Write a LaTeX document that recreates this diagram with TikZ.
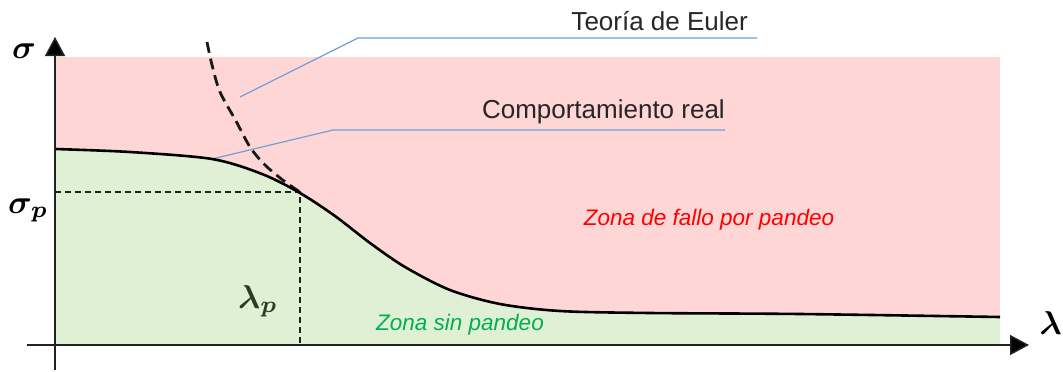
\documentclass[tikz,border=0pt]{standalone}
\usepackage{graphicx}
\usepackage{amsmath}
\usepackage{fontspec}
\setsansfont{Liberation Sans}
\usetikzlibrary{arrows.meta}
\definecolor{pinkfill}{RGB}{255,214,214}
\definecolor{greenfill}{RGB}{224,240,212}
\definecolor{leaderblue}{RGB}{110,160,220}
\definecolor{axiscol}{RGB}{30,36,30}
\definecolor{zonered}{RGB}{255,0,0}
\definecolor{zonegreen}{RGB}{0,176,80}
\definecolor{lpcol}{RGB}{40,60,40}
\newcommand{\plotsym}[1]{\scalebox{3.3}{\boldmath$#1$}}
\tikzset{
  axisline/.style={draw=axiscol, line width=1.6pt, -{Triangle[length=19pt,width=20pt,fill=black]}},
  leader/.style={draw=leaderblue, line width=1.2pt},
  labeltext/.style={font=\sffamily\fontsize{26}{30}\selectfont, text=black!85, inner sep=0pt},
  zonetext/.style={font=\sffamily\itshape\fontsize{22.5}{26}\selectfont, inner sep=0pt},
  mathlabel/.style={inner sep=0pt},
  guide/.style={draw=axiscol, line width=1.2pt, dash pattern=on 6pt off 4pt},
  realcurve/.style={draw=black, line width=2.6pt},
  eulercurve/.style={draw=black!90, line width=2.8pt, dash pattern=on 11pt off 6pt},
}
\begin{document}
\begin{tikzpicture}[x=1pt,y=-1pt]
\useasboundingbox (0,0) rectangle (1063,372);
% regions
\fill[pinkfill] (55,57) rectangle (1000,345);
\fill[greenfill] plot[smooth] coordinates {(55,149) (130,152) (212,159) (262,174) (300,193) (335,216) (370,243) (405,267) (450,290) (500,304) (560,311) (650,313) (800,314) (1000,317)} -- (1000,345) -- (55,345) -- cycle;
% guides
\coordinate (P) at (300,192);
\coordinate (Py) at (55,192);
\coordinate (Px) at (300,345);
\draw[guide] (Py) -- (P) -- (Px);
% leaders
\coordinate (eA) at (240,97);
\coordinate (eB) at (358,38);
\coordinate (eC) at (757,38);
\draw[leader] (eA) -- (eB) -- (eC);
\coordinate (rA) at (212,159);
\coordinate (rB) at (333,130);
\coordinate (rC) at (725,130);
\draw[leader] (rA) -- (rB) -- (rC);
% curves
\draw[eulercurve] plot[smooth] coordinates {(207,42) (212,65) (220,92) (236,121) (250,147) (265,165) (284,181) (300,192)};
\draw[realcurve] plot[smooth] coordinates {(55,149) (130,152) (212,159) (262,174) (300,193) (335,216) (370,243) (405,267) (450,290) (500,304) (560,311) (650,313) (800,314) (1000,317)};
% axes
\coordinate (yb) at (55,370);
\coordinate (yt) at (55,37);
\coordinate (xl) at (27,345);
\coordinate (xr) at (1029,345);
\draw[axisline] (yb) -- (yt);
\draw[axisline] (xl) -- (xr);
% labels
\node[labeltext, anchor=base east] (euler) at (748,30) {Teoría de Euler};
\node[labeltext, anchor=base east] (real) at (725,118) {Comportamiento real};
\node[zonetext, text=zonered] (fallo) at (709,220) {Zona de fallo por pandeo};
\node[zonetext, text=zonegreen] (sin) at (460,325) {Zona sin pandeo};
\node[mathlabel, anchor=base west] (sig) at (12,58) {\plotsym{\sigma}};
\node[mathlabel, anchor=base west] (sigp) at (8,213) {\plotsym{\sigma_p}};
\node[mathlabel, anchor=base west, text=lpcol] (lamp) at (238,308) {\plotsym{\lambda_p}};
\node[mathlabel, anchor=base east] (lam) at (1062,334) {\plotsym{\lambda}};
\end{tikzpicture}
\end{document}
